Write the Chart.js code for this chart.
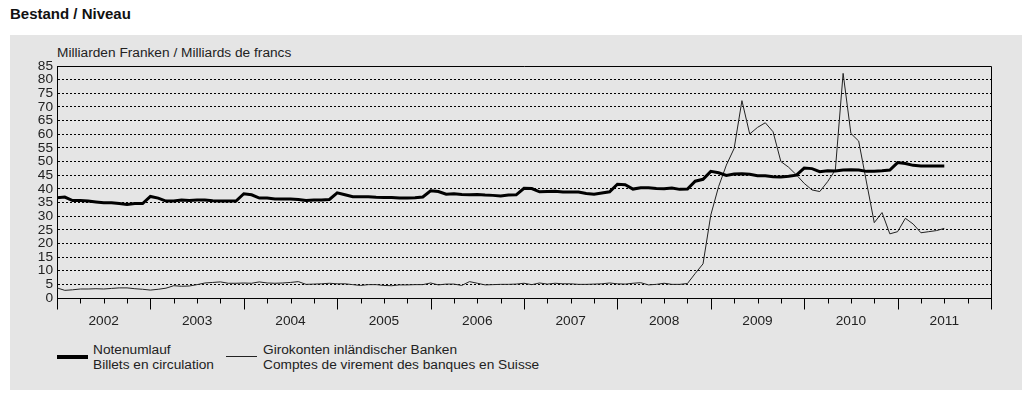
<!DOCTYPE html>
<html>
<head>
<meta charset="utf-8">
<script src="https://cdn.jsdelivr.net/npm/chart.js@4/dist/chart.umd.min.js"></script>
<style>
  body { margin: 0; width: 1030px; height: 396px; background: #fff; font-family: "Liberation Sans", Arial, sans-serif; color: #222; position: relative; overflow: hidden; }
  #title { position: absolute; left: 10px; top: 5px; font-size: 15px; font-weight: bold; color: #111; }
  #panel { position: absolute; left: 10px; top: 35px; width: 1012px; height: 355px; background: #e5e5e5; }
  #unit { position: absolute; left: 57px; top: 45px; font-size: 13.7px; color: #222; }
  #wrap { position: absolute; left: 10px; top: 35px; width: 1012px; height: 300px; }
  .swatch { position: absolute; background: #000; }
  .leg { position: absolute; top: 342px; font-size: 13.7px; line-height: 15px; color: #222; }
</style>
</head>
<body>
<div id="title">Bestand / Niveau</div>
<div id="panel"></div>
<div id="unit">Milliarden Franken / Milliards de francs</div>
<div id="wrap"><canvas id="chart"></canvas></div>
<div class="swatch" style="left:57px; top:355px; width:31px; height:4px;"></div>
<div class="leg" style="left:93px;">Notenumlauf<br>Billets en circulation</div>
<div class="swatch" style="left:226px; top:356px; width:31px; height:1px; background:#222;"></div>
<div class="leg" style="left:263px;">Girokonten inländischer Banken<br>Comptes de virement des banques en Suisse</div>

<script>
// month-end values, index 0 = end of Dec 2001 ... index 114 = end of Jun 2011
const yearLabels = ['2002', '2003', '2004', '2005', '2006', '2007', '2008', '2009', '2010', '2011'];

const notenumlauf = [
  36.7, 37.0, 35.7, 35.7, 35.5, 35.2, 34.9, 34.9, 34.6, 34.3, 34.6, 34.6,
  37.2, 36.6, 35.5, 35.5, 35.9, 35.7, 35.9, 35.9, 35.6, 35.5, 35.5, 35.5,
  38.2, 37.8, 36.6, 36.6, 36.3, 36.3, 36.3, 36.1, 35.7, 35.9, 35.9, 36.1,
  38.5, 37.8, 37.1, 37.1, 37.1, 36.9, 36.8, 36.8, 36.6, 36.6, 36.7, 37.0,
  39.3, 39.0, 38.0, 38.2, 37.9, 37.8, 37.9, 37.7, 37.6, 37.4, 37.7, 37.8,
  40.2, 40.1, 38.9, 39.0, 39.1, 38.8, 38.8, 38.8, 38.3, 38.0, 38.5, 38.9,
  41.7, 41.5, 39.9, 40.4, 40.4, 40.1, 40.0, 40.3, 39.8, 39.9, 42.8, 43.5,
  46.4, 45.9, 44.9, 45.4, 45.5, 45.3, 44.8, 44.8, 44.4, 44.3, 44.6, 45.0,
  47.6, 47.4, 46.3, 46.6, 46.5, 46.9, 47.0, 46.9, 46.4, 46.4, 46.6, 46.9,
  49.6, 49.3, 48.6, 48.4, 48.4, 48.4, 48.4
];

const girokonten = [
  3.7, 2.8, 3.0, 3.3, 3.3, 3.4, 3.3, 3.5, 3.7, 3.7, 3.4, 3.2,
  2.9, 3.2, 3.6, 4.5, 4.3, 4.4, 4.9, 5.5, 5.7, 5.9, 5.4, 5.4,
  5.5, 5.4, 5.9, 5.5, 5.4, 5.5, 5.7, 6.0, 5.0, 5.1, 5.2, 5.4,
  5.2, 5.2, 4.9, 4.6, 4.9, 4.9, 4.6, 4.5, 4.8, 4.8, 4.9, 4.9,
  5.5, 4.8, 5.1, 5.1, 4.6, 6.0, 5.4, 4.8, 4.9, 5.0, 5.0, 5.1,
  5.4, 4.9, 5.5, 5.1, 5.4, 5.2, 5.2, 5.0, 5.0, 5.1, 5.2, 5.5,
  5.2, 5.1, 5.4, 5.6, 4.8, 5.0, 5.4, 5.0, 5.0, 5.3, 9.0, 12.5,
  30.4, 40.8, 48.7, 54.8, 72.3, 60.1, 62.5, 64.2, 60.9, 50.0, 47.9, 45.1,
  42.0, 39.6, 39.0, 42.6, 46.9, 82.3, 60.3, 57.5, 42.5, 27.6, 31.3, 23.5,
  24.3, 29.2, 27.1, 23.9, 24.3, 24.7, 25.5
];

const toPoints = arr => arr.map((v, i) => ({ x: i, y: v }));

// solid top/right frame plus year and quarter tick marks under the x axis
const frameTicks = {
  id: 'frameTicks',
  afterDraw(chart) {
    const { ctx, chartArea } = chart;
    const xs = chart.scales.x;
    ctx.save();
    ctx.strokeStyle = '#000';
    ctx.lineWidth = 1;
    ctx.beginPath();
    const top = Math.round(chartArea.top) + 0.5;
    const right = Math.round(chartArea.right) + 0.5;
    const bottom = Math.round(chartArea.bottom) + 0.5;
    ctx.moveTo(Math.round(chartArea.left), top);
    ctx.lineTo(right, top);
    ctx.lineTo(right, bottom);
    for (let m = 0; m <= 120; m += 3) {
      const px = Math.round(xs.getPixelForValue(m)) + 0.5;
      ctx.moveTo(px, bottom);
      ctx.lineTo(px, bottom + (m % 12 === 0 ? 11 : 5));
    }
    ctx.stroke();
    ctx.restore();
  }
};

new Chart(document.getElementById('chart').getContext('2d'), {
  type: 'line',
  data: {
    datasets: [
      {
        label: 'Notenumlauf',
        data: toPoints(notenumlauf),
        borderColor: '#000',
        borderWidth: 3,
        pointRadius: 0,
        tension: 0,
        fill: false,
      },
      {
        label: 'Girokonten inländischer Banken',
        data: toPoints(girokonten),
        borderColor: '#222',
        borderWidth: 1,
        pointRadius: 0,
        tension: 0,
        fill: false,
      },
    ],
  },
  options: {
    responsive: true,
    maintainAspectRatio: false,
    animation: false,
    layout: { padding: { top: 31, right: 31, left: 0, bottom: 0 } },
    plugins: {
      legend: { display: false },
      tooltip: { enabled: false },
    },
    scales: {
      x: {
        type: 'linear',
        min: 0,
        max: 120,
        grid: { display: false },
        border: { color: '#000', width: 1 },
        ticks: {
          stepSize: 6,
          autoSkip: false,
          maxRotation: 0,
          padding: 7,
          color: '#222',
          font: { size: 13.7, family: 'Liberation Sans' },
          callback: v => (v % 12 === 6 ? yearLabels[(v - 6) / 12] : ''),
        },
        afterFit: s => { s.height = 37; },
      },
      y: {
        min: 0,
        max: 85,
        grid: { color: '#000', lineWidth: 1, drawTicks: false },
        border: { color: '#000', width: 1, dash: [2, 2] },
        ticks: {
          stepSize: 5,
          autoSkip: false,
          padding: 4,
          color: '#222',
          font: { size: 13.7, family: 'Liberation Sans', lineHeight: 1 },
        },
        afterFit: s => { s.width = 47; },
      },
    },
  },
  plugins: [frameTicks],
});
</script>
</body>
</html>
